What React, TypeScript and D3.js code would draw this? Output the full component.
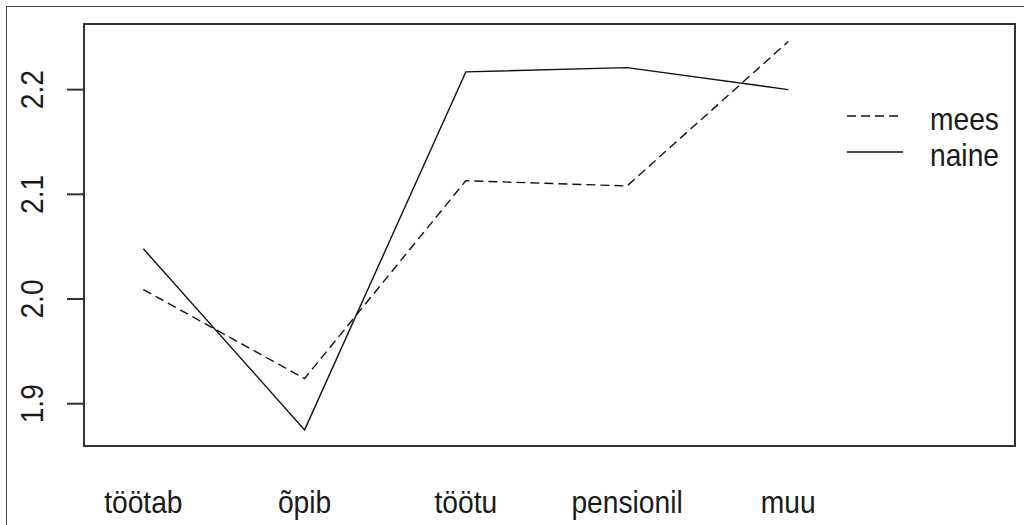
import { useEffect, useRef } from 'react';
import * as d3 from 'd3';

// factor levels on the x axis
const categories = ['töötab', 'õpib', 'töötu', 'pensionil', 'muu'];
// mean response per level, one series per group
const meesValues = [2.009, 1.924, 2.113, 2.108, 2.246];
const naineValues = [2.048, 1.875, 2.217, 2.221, 2.2];
const seriesNames = ['mees', 'naine'];
const yTicks = [1.9, 2.0, 2.1, 2.2];

export default function App() {
  const svgRef = useRef<SVGSVGElement>(null);

  useEffect(() => {
    document.body.style.margin = '0';
    if (!svgRef.current) return;

    const width = 1024;
    const height = 525;
    const box = { left: 84, right: 1015, top: 24, bottom: 446 };
    const font = '"Liberation Sans", Arial, sans-serif';
    const fontSize = '31px';
    const squeeze = 'scale(0.91,1)'; // reference text is a bit narrower than Arial

    const svg = d3.select(svgRef.current);
    svg.selectAll('*').remove();
    svg.attr('width', width).attr('height', height);

    svg.append('rect')
      .attr('width', width).attr('height', height)
      .style('fill', '#fff');

    // outer device frame
    svg.append('rect')
      .attr('x', 6.5).attr('y', 6.5)
      .attr('width', width + 20).attr('height', height + 20)
      .style('fill', 'none')
      .style('stroke', '#444')
      .style('stroke-width', 1);

    const x = d3.scaleLinear().domain([0.632, 6.406]).range([box.left, box.right]);
    const y = d3.scaleLinear().domain([1.8596, 2.2627]).range([box.bottom, box.top]);

    // y axis ticks + rotated labels
    const yAxis = svg.append('g');
    yAxis.selectAll('line')
      .data(yTicks)
      .enter()
      .append('line')
      .attr('x1', 67).attr('x2', box.left)
      .attr('y1', d => y(d)).attr('y2', d => y(d))
      .style('stroke', '#333')
      .style('stroke-width', 2);
    yAxis.selectAll('text')
      .data(yTicks)
      .enter()
      .append('text')
      .attr('transform', d => `translate(43,${y(d)}) rotate(-90) ${squeeze}`)
      .attr('text-anchor', 'middle')
      .style('font-family', font)
      .style('font-size', fontSize)
      .style('fill', '#1a1a1a')
      .text(d => d.toFixed(1));

    // x labels (no tick marks)
    svg.append('g')
      .selectAll('text')
      .data(categories)
      .enter()
      .append('text')
      .attr('transform', (_, i) => `translate(${x(i + 1)},513) ${squeeze}`)
      .attr('text-anchor', 'middle')
      .style('font-family', font)
      .style('font-size', fontSize)
      .style('fill', '#1a1a1a')
      .text(d => d);

    const line = d3.line<number>()
      .x((_, i) => x(i + 1))
      .y(d => y(d));

    const series = [
      { name: seriesNames[0], values: meesValues, dash: '9,5' },
      { name: seriesNames[1], values: naineValues, dash: null },
    ];

    svg.append('g')
      .selectAll('path')
      .data(series)
      .enter()
      .append('path')
      .attr('d', d => line(d.values))
      .style('fill', 'none')
      .style('stroke', '#111')
      .style('stroke-width', 1.4)
      .style('stroke-dasharray', d => d.dash);

    // legend
    const legend = svg.append('g')
      .selectAll('g')
      .data(series)
      .enter()
      .append('g')
      .attr('transform', (_, i) => `translate(0,${116 + i * 36})`);
    legend.append('line')
      .attr('x1', 847).attr('x2', 903)
      .attr('y1', 0).attr('y2', 0)
      .style('stroke', '#111')
      .style('stroke-width', 1.6)
      .style('stroke-dasharray', d => d.dash);
    legend.append('text')
      .attr('transform', `translate(930,13.5) ${squeeze}`)
      .style('font-family', font)
      .style('font-size', fontSize)
      .style('fill', '#1a1a1a')
      .text(d => d.name);

    // plot box
    svg.append('rect')
      .attr('x', box.left).attr('y', box.top)
      .attr('width', box.right - box.left).attr('height', box.bottom - box.top)
      .style('fill', 'none')
      .style('stroke', '#333')
      .style('stroke-width', 2);
  }, []);

  return <svg ref={svgRef} style={{ display: 'block' }} />;
}
